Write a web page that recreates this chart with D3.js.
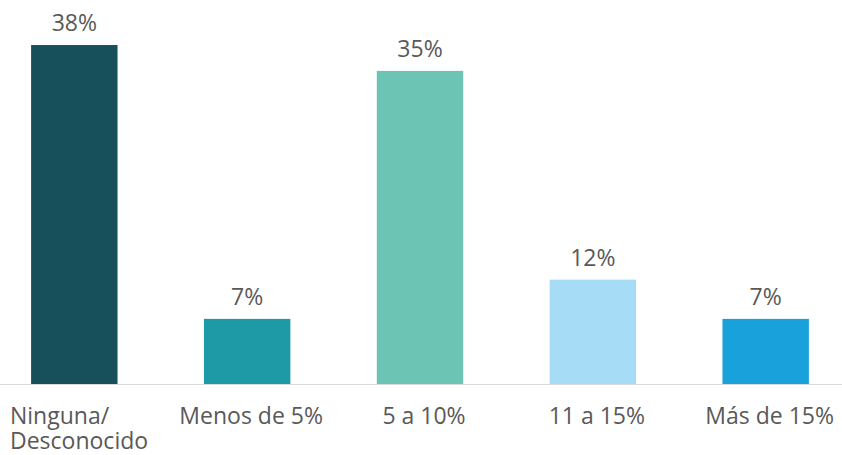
<!DOCTYPE html>
<html>
<head>
<meta charset="utf-8">
<script src="https://cdn.jsdelivr.net/npm/d3@7"></script>
<style>
  body { margin: 0; background: #fff; }
  text { font-family: "Open Sans", sans-serif; fill: #595959; }
</style>
</head>
<body>
<div id="chart"></div>
<script>
const categories = ["Ninguna/\nDesconocido", "Menos de 5%", "5 a 10%", "11 a 15%", "Más de 15%"];
const values = [38, 7.3, 35.1, 11.7, 7.3];
const colors = ["#174f5b", "#1e9aa7", "#6cc4b4", "#a6dcf6", "#18a1da"];

const width = 842;
const height = 455;
const baseline = 384;

const svg = d3.select("#chart")
    .append("svg")
    .attr("width", width)
    .attr("height", height);

const xScale = d3.scaleBand()
    .domain(categories)
    .range([0, 840])
    .paddingInner(0.5)
    .paddingOuter(0.18);

const yScale = d3.scaleLinear()
    .domain([0, 40])
    .range([baseline, baseline - 40 * 8.92]);

const data = categories.map((c, i) => ({ cat: c, value: values[i], color: colors[i] }));

svg.selectAll(".bar")
    .data(data)
    .enter()
    .append("rect")
    .attr("class", "bar")
    .attr("x", d => xScale(d.cat))
    .attr("y", d => yScale(d.value))
    .attr("width", xScale.bandwidth())
    .attr("height", d => baseline - yScale(d.value))
    .style("fill", d => d.color);

// baseline axis
svg.append("line")
    .attr("x1", 0)
    .attr("x2", width)
    .attr("y1", baseline + 0.5)
    .attr("y2", baseline + 0.5)
    .style("stroke", "#d9d9d9")
    .style("stroke-width", 1);

// value labels
svg.selectAll(".value")
    .data(data)
    .enter()
    .append("text")
    .attr("class", "value")
    .attr("x", d => xScale(d.cat) + xScale.bandwidth() / 2)
    .attr("y", d => yScale(d.value) - 14)
    .style("text-anchor", "middle")
    .style("font-size", "23px")
    .text(d => Math.round(d.value) + "%");

// category labels: each line its own text, left-aligned in a block centred under the bar
const labelGroups = svg.selectAll(".cat")
    .data(data)
    .enter()
    .append("g")
    .attr("class", "cat");

labelGroups.each(function(d) {
    const g = d3.select(this);
    const lines = d.cat.split("\n");
    lines.forEach((line, i) => {
        g.append("text")
            .attr("y", 424 + i * 25)
            .style("font-size", "23px")
            .text(line);
    });
    const w = this.getBBox().width;
    let x = xScale(d.cat) + xScale.bandwidth() / 2 - w / 2 + 4;
    x = Math.max(10, Math.min(x, width - 2 - w));
    g.selectAll("text").attr("x", x);
});
</script>
</body>
</html>
